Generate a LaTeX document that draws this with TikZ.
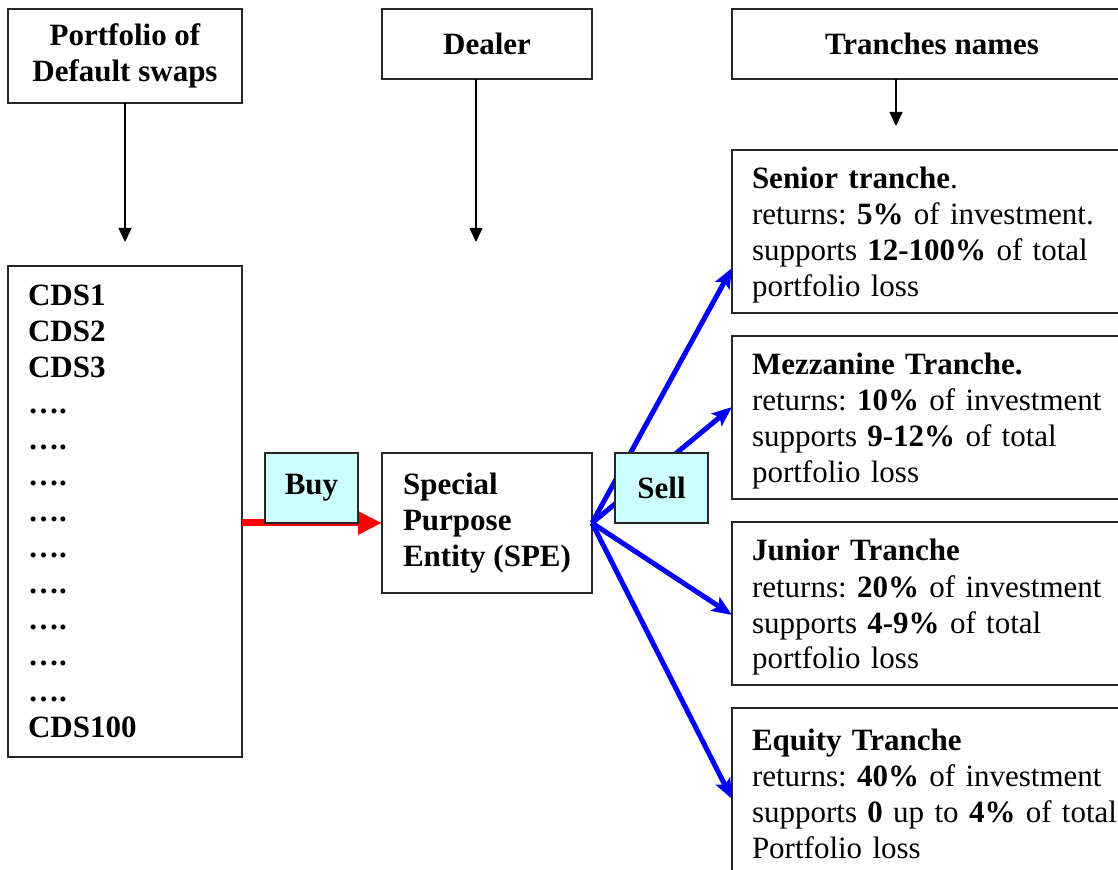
\documentclass[tikz,border=0pt]{standalone}
\usepackage{fontspec}
\setmainfont{Liberation Serif}
\usetikzlibrary{arrows.meta, positioning, calc}
\definecolor{tagcyan}{HTML}{CCFFFF}
\frenchspacing

\begin{document}
\begin{tikzpicture}[
    x=0.5pt, y=-0.5pt,
    node distance=11.5pt,
    every node/.style={font=\fontsize{15.5pt}{18pt}\selectfont, outer sep=0pt},
    head/.style={draw=black!85, line width=0.75pt, inner sep=0pt, align=center, anchor=north west, font=\fontsize{15.5pt}{18pt}\selectfont\bfseries},
    listbox/.style={draw=black!85, line width=0.75pt, inner xsep=10pt, inner ysep=0pt, align=left, anchor=north west, font=\fontsize{15.5pt}{18pt}\selectfont\bfseries},
    tranche/.style={draw=black!85, line width=0.75pt, inner xsep=10pt, inner ysep=0pt, text width=195pt, minimum height=81.5pt, align=left, anchor=north west,
        execute at begin node=\rule{0pt}{14.8pt}},
    tag/.style={draw=black!85, line width=0.75pt, fill=tagcyan, minimum width=46.5pt, minimum height=35pt, inner sep=0pt, font=\fontsize{15.5pt}{18pt}\selectfont\bfseries},
    flow/.style={-{Triangle[length=7pt, width=6.5pt]}, line width=0.75pt},
    buyarrow/.style={-{Triangle[length=12pt, width=11pt]}, line width=3.5pt, red},
    sellarrow/.style={-{Stealth[length=10pt, width=8pt, inset=2pt]}, line width=2.5pt, blue}
]
   \useasboundingbox (0,0) rectangle (1118,870);

   % Top row
   \node[head, minimum width=117pt, minimum height=47pt] (portfolio) at (8,9) {Portfolio of\\Default swaps};
   \node[head, minimum width=105pt, minimum height=35pt] (dealer) at (382,9) {Dealer};
   \node[head, minimum width=200pt, minimum height=35pt] (names) at (732,9) {Tranches names};

   % Swaps and SPE
   \node[listbox, text width=97pt, minimum height=245.5pt] (cds) at (8,266)
        {CDS1\\CDS2\\CDS3\\….\\….\\….\\….\\….\\….\\….\\….\\….\\CDS100};
   \node[listbox, inner xsep=0pt, minimum width=105pt, minimum height=70pt] (spe) at (382,453)
        {Special\\Purpose\\Entity (SPE)};

   % Tranches
   \node[tranche] (senior) at (732,150)
        {\textbf{Senior tranche}.\\returns: \textbf{5\%} of investment.\\supports \textbf{12-100\%} of total\\portfolio loss};
   \node[tranche, below=of senior] (mezz)
        {\textbf{Mezzanine Tranche.}\\returns: \textbf{10\%} of investment\\supports \textbf{9-12\%} of total\\portfolio loss};
   \node[tranche, below=of mezz] (junior)
        {\textbf{Junior Tranche}\\returns: \textbf{20\%} of investment\\supports \textbf{4-9\%} of total\\portfolio loss};
   \node[tranche, below=of junior] (equity)
        {\textbf{Equity Tranche}\\returns: \textbf{40\%} of investment\\supports \textbf{0} up to \textbf{4\%} of total\\Portfolio loss};

   % Down arrows
   \coordinate (cdsin) at (125,242);
   \coordinate (dealerout) at (476,242);
   \coordinate (namesout) at (896,126);
   \draw[flow] (portfolio.south) -- (cdsin);
   \draw[flow] (dealer.south -| dealerout) -- (dealerout);
   \draw[flow] (names.south -| namesout) -- (namesout);

   % Buy and sell
   \draw[buyarrow] (cds.east |- spe.west) -- (spe.west);
   \draw[sellarrow] (spe.east) -- ($(senior.north west)+(0,118)$);
   \draw[sellarrow] (spe.east) -- ($(mezz.north west)+(0,71)$);
   \draw[sellarrow] (spe.east) -- ($(junior.north west)+(0,93)$);
   \draw[sellarrow] (spe.east) -- ($(equity.north west)+(0,91)$);

   \node[tag, left=12pt of spe.north west, anchor=north east] (buy) {Buy};
   \node[tag, right=11.5pt of spe.north east, anchor=north west] (sell) {Sell};

\end{tikzpicture}
\end{document}
